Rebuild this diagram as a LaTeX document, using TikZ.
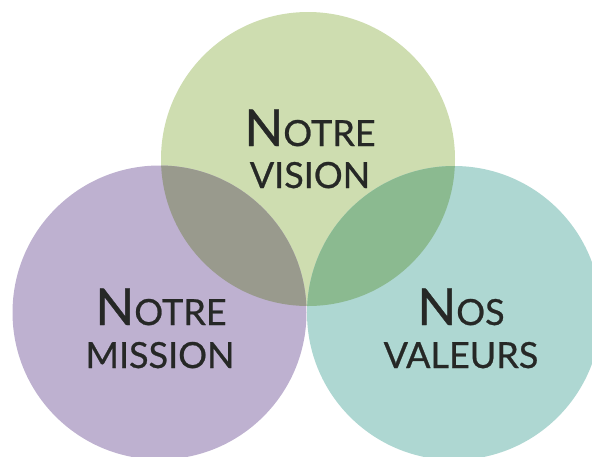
\documentclass[tikz,border=0pt]{standalone}
\usepackage{fontspec}
\setmainfont{Lato}[FakeBold=0.7]
\definecolor{cvision}{HTML}{CEDDB0}
\definecolor{cmission}{HTML}{BEB1D0}
\definecolor{cvaleurs}{HTML}{AED7D2}
\definecolor{cvm}{HTML}{999A8D}
\definecolor{cvv}{HTML}{8BBA90}
\definecolor{ctext}{HTML}{262826}
\begin{document}
\begin{tikzpicture}[x=1pt,y=-1pt,
  lbl/.style={anchor=base,text=ctext,inner sep=0pt},
  big/.style={font=\fontsize{51}{51}\selectfont},
  small/.style={font=\fontsize{36}{36}\selectfont}]
\useasboundingbox (0,0) rectangle (592,456);
\def\rr{147pt}
\fill[cvision] (308,159) circle (\rr);
\fill[cmission] (159.5,312.5) circle (\rr);
\fill[cvaleurs] (454,313) circle (\rr);
\begin{scope}
  \clip (308,159) circle (\rr);
  \fill[cvm] (159.5,312.5) circle (\rr);
  \fill[cvv] (454,313) circle (\rr);
\end{scope}
\node[lbl] (v1) at (310,146) {{\fontsize{51}{51}\selectfont N}{\fontsize{36}{36}\selectfont OTRE}};
\node[lbl,small] (v2) at (310,188) {VISION};
\node[lbl] (m1) at (161,325) {{\fontsize{51}{51}\selectfont N}{\fontsize{36}{36}\selectfont OTRE}};
\node[lbl,small] (m2) at (160,368) {MISSION};
\node[lbl] (n1) at (461,325) {{\fontsize{51}{51}\selectfont N}{\fontsize{36}{36}\selectfont OS}};
\node[lbl,small] (n2) at (461,368) {VALEURS};
\end{tikzpicture}
\end{document}
